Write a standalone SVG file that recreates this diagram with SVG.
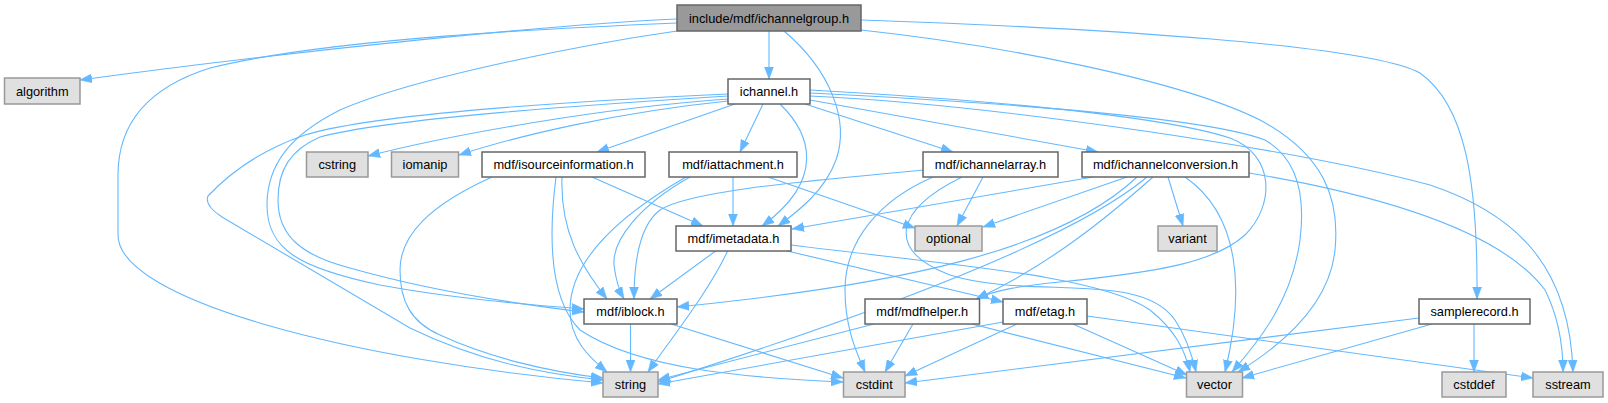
<svg xmlns="http://www.w3.org/2000/svg" width="1608" height="403" viewBox="0 0 1608 403">
<style>
.e{fill:none;stroke:#63b8ff;stroke-width:1.1;marker-end:url(#arr)}
.n rect{fill:#ffffff;stroke:#666666;stroke-width:1.5}
.s rect{fill:#e0e0e0;stroke:#999999;stroke-width:1.5}
.r rect{fill:#999999;stroke:#666666;stroke-width:1.5}
text{font-family:"Liberation Sans",Arial,sans-serif;font-size:12.8px;text-anchor:middle;fill:#000000}
</style>
<defs>
<marker id="arr" markerWidth="12" markerHeight="10" refX="12" refY="5" orient="auto" markerUnits="userSpaceOnUse">
<path d="M0,0.5 L12,5 L0,9.5 Z" fill="#63b8ff" stroke="#63b8ff" stroke-width="0.5"/>
</marker>
</defs>
<rect width="1608" height="403" fill="#ffffff"/>
<g id="edges">
<path class="e" d="M769,31 L769,79"/>
<path class="e" d="M677,19 C560,24 300,50 80,80"/>
<path class="e" d="M677,23 C560,28 330,38 210,68 C140,90 118,130 118,175 L118,235 C118,300 350,360 603,383"/>
<path class="e" d="M677,31 C600,42 420,75 340,110 C290,135 267,165 267,205 C267,250 300,268 380,285 C450,298 520,304 584,309"/>
<path class="e" d="M784,31 C830,70 850,120 836,160 C825,190 800,210 778,226"/>
<path class="e" d="M861,30 C1000,45 1180,80 1260,120 C1325,155 1340,200 1335,250 C1330,300 1290,340 1238,372"/>
<path class="e" d="M861,20 C1100,28 1370,45 1420,73 C1465,105 1478,180 1477,299"/>
<path class="e" d="M728,94 C600,100 380,112 305,135 C255,152 225,178 208,196 Q204,205 222,217 L410,328 C480,362 545,374 603,380"/>
<path class="e" d="M728,96 C600,104 390,118 320,137 C290,150 278,170 278,200 C278,235 300,255 350,268 C420,288 500,302 584,312"/>
<path class="e" d="M728,99 C600,108 450,135 368,156"/>
<path class="e" d="M728,101 C620,112 520,135 459,155"/>
<path class="e" d="M735,104 L597,152"/>
<path class="e" d="M763,104 L740,152"/>
<path class="e" d="M780,104 C812,135 825,180 762,226"/>
<path class="e" d="M805,104 L953,152"/>
<path class="e" d="M810,100 L1098,152"/>
<path class="e" d="M810,90 C950,98 1150,112 1230,138 C1275,155 1275,205 1245,235 C1215,262 1160,272 1060,282 C1020,286 995,290 976,299"/>
<path class="e" d="M810,93 C950,100 1200,115 1265,140 C1300,160 1305,200 1300,240 C1292,300 1260,340 1232,372"/>
<path class="e" d="M810,96 C1000,105 1300,150 1430,185 C1520,215 1570,270 1573,372"/>
<path class="e" d="M492,177 C430,205 400,235 400,270 C400,300 410,322 440,335 C490,358 550,372 603,378"/>
<path class="e" d="M556,177 C548,240 550,300 580,330 C640,370 750,378 843,382"/>
<path class="e" d="M562,177 C560,230 580,265 607,299"/>
<path class="e" d="M592,177 L703,226"/>
<path class="e" d="M733,177 L733,226"/>
<path class="e" d="M768,177 L915,228"/>
<path class="e" d="M690,177 C640,205 612,240 614,265 C616,282 620,292 624,299"/>
<path class="e" d="M686,177 C620,215 570,260 570,310 C570,340 590,358 607,372"/>
<path class="e" d="M923,170 C820,180 690,190 660,210 C640,225 634,260 634,299"/>
<path class="e" d="M933,177 C880,200 845,240 845,290 C845,330 858,355 865,372"/>
<path class="e" d="M983,177 L957,226"/>
<path class="e" d="M962,177 C895,210 885,250 950,275 C1030,300 1140,270 1175,320 C1185,335 1192,355 1196,372"/>
<path class="e" d="M1093,177 L792,229"/>
<path class="e" d="M1127,177 L983,227"/>
<path class="e" d="M1137,177 C1060,250 900,285 677,307"/>
<path class="e" d="M1147,177 C1090,225 950,290 658,382"/>
<path class="e" d="M1153,177 C1110,215 1050,265 976,299"/>
<path class="e" d="M1168,177 L1183,226"/>
<path class="e" d="M1185,177 C1240,215 1245,290 1225,372"/>
<path class="e" d="M1249,173 C1380,195 1500,230 1545,290 C1560,320 1563,350 1563,372"/>
<path class="e" d="M717,250 L650,299"/>
<path class="e" d="M728,250 C710,290 670,340 648,372"/>
<path class="e" d="M783,250 L1003,302"/>
<path class="e" d="M791,245 C950,265 1100,275 1150,310 C1175,330 1185,350 1190,372"/>
<path class="e" d="M630.5,324 L630.5,372"/>
<path class="e" d="M671,324 L843,378"/>
<path class="e" d="M874,324 L658,380"/>
<path class="e" d="M913,324 L885,372"/>
<path class="e" d="M972,324 L1186,378"/>
<path class="e" d="M1003,322 L658,384"/>
<path class="e" d="M1017,324 L905,376"/>
<path class="e" d="M1073,324 L1187,375"/>
<path class="e" d="M1087,316 L1533,378"/>
<path class="e" d="M1419,318 L905,383"/>
<path class="e" d="M1432,324 L1242,378"/>
<path class="e" d="M1474,324 L1474,372"/>
</g>
<g id="n_root" class="r"><rect x="677" y="5" width="184" height="26"/><text x="769" y="22.5">include/mdf/ichannelgroup.h</text></g>
<g id="n_algorithm" class="s"><rect x="4.5" y="78" width="75.5" height="26"/><text x="42.25" y="95.5">algorithm</text></g>
<g id="n_ichannel" class="n"><rect x="728" y="79" width="82" height="25"/><text x="769" y="96">ichannel.h</text></g>
<g id="n_cstring" class="s"><rect x="306.5" y="152" width="61.5" height="25"/><text x="337.25" y="169">cstring</text></g>
<g id="n_iomanip" class="s"><rect x="391.5" y="152" width="67" height="25"/><text x="425" y="169">iomanip</text></g>
<g id="n_isourceinformation" class="n"><rect x="482" y="152" width="163" height="25"/><text x="563.5" y="169">mdf/isourceinformation.h</text></g>
<g id="n_iattachment" class="n"><rect x="669" y="152" width="128" height="25"/><text x="733" y="169">mdf/iattachment.h</text></g>
<g id="n_ichannelarray" class="n"><rect x="923" y="152" width="135" height="25"/><text x="990.5" y="169">mdf/ichannelarray.h</text></g>
<g id="n_ichannelconversion" class="n"><rect x="1082" y="152" width="167" height="25"/><text x="1165.5" y="169">mdf/ichannelconversion.h</text></g>
<g id="n_imetadata" class="n"><rect x="676" y="226" width="115" height="25"/><text x="733.5" y="243">mdf/imetadata.h</text></g>
<g id="n_optional" class="s"><rect x="915" y="226" width="67" height="25"/><text x="948.5" y="243">optional</text></g>
<g id="n_variant" class="s"><rect x="1158" y="226" width="59" height="25"/><text x="1187.5" y="243">variant</text></g>
<g id="n_iblock" class="n"><rect x="584" y="299" width="93" height="25"/><text x="630.5" y="316">mdf/iblock.h</text></g>
<g id="n_mdfhelper" class="n"><rect x="865" y="299" width="114.5" height="25"/><text x="922.25" y="316">mdf/mdfhelper.h</text></g>
<g id="n_etag" class="n"><rect x="1003" y="299" width="84" height="25"/><text x="1045" y="316">mdf/etag.h</text></g>
<g id="n_samplerecord" class="n"><rect x="1419" y="299" width="111" height="25"/><text x="1474.5" y="316">samplerecord.h</text></g>
<g id="n_string" class="s"><rect x="603" y="372" width="55" height="25"/><text x="630.5" y="389">string</text></g>
<g id="n_cstdint" class="s"><rect x="843.5" y="372" width="61.5" height="25"/><text x="874.25" y="389">cstdint</text></g>
<g id="n_vector" class="s"><rect x="1186.5" y="372" width="56" height="25"/><text x="1214.5" y="389">vector</text></g>
<g id="n_cstddef" class="s"><rect x="1442" y="372" width="64" height="25"/><text x="1474" y="389">cstddef</text></g>
<g id="n_sstream" class="s"><rect x="1533" y="372" width="70" height="25"/><text x="1568" y="389">sstream</text></g>
</svg>
